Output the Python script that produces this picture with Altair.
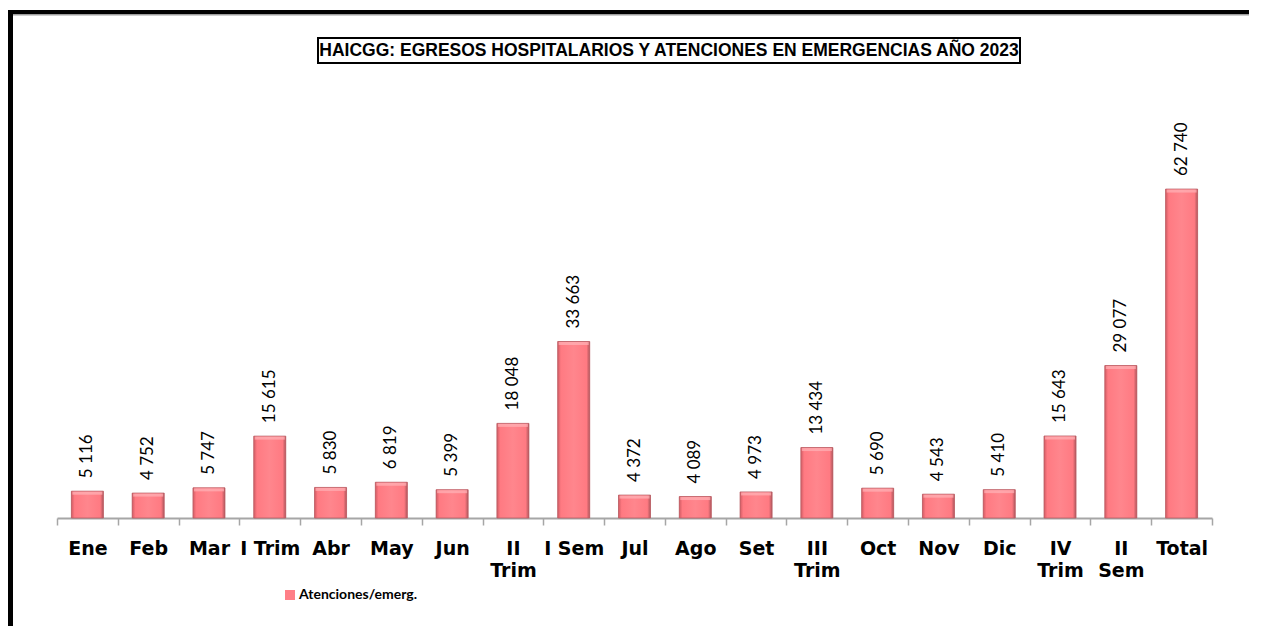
import altair as alt
import pandas as pd

categorias = ["Ene", "Feb", "Mar", "I Trim", "Abr", "May", "Jun", "II Trim", "I Sem",
              "Jul", "Ago", "Set", "III Trim", "Oct", "Nov", "Dic", "IV Trim", "II Sem", "Total"]
valores = [5116, 4752, 5747, 15615, 5830, 6819, 5399, 18048, 33663,
           4372, 4089, 4973, 13434, 5690, 4543, 5410, 15643, 29077, 62740]
serie = "Atenciones/emerg."
titulo = "HAICGG: EGRESOS HOSPITALARIOS Y ATENCIONES EN EMERGENCIAS AÑO 2023"
etiquetas_dos_lineas = ["II Trim", "III Trim", "IV Trim", "II Sem"]

df = pd.DataFrame({"mes": categorias, "valor": valores, "serie": [serie] * len(categorias)})

lista_js = "[" + ",".join("'" + e + "'" for e in etiquetas_dos_lineas) + "]"

x_enc = alt.X(
    "mes:N", sort=categorias,
    scale=alt.Scale(paddingInner=0, paddingOuter=0),
    axis=alt.Axis(
        title=None, labelAngle=0, labelFont="DejaVu Sans", labelFontWeight="bold",
        labelFontSize=19, labelColor="black", labelPadding=14, labelLineHeight=22,
        labelOverlap=False, labelExpr=f"indexof({lista_js}, datum.label) >= 0 ? split(datum.label, ' ') : datum.label",
        domainColor="#A6A6A6", domainWidth=2, tickColor="#A6A6A6", tickWidth=1.5,
        tickSize=7, tickBand="extent", grid=False,
    ),
)
y_enc = alt.Y("valor:Q", scale=alt.Scale(domain=[0, 70000], nice=False, zero=True), axis=None)

base = alt.Chart(df)

barras_leyenda = base.mark_bar(size=32).encode(
    x=x_enc, y=y_enc,
    color=alt.Color(
        "serie:N", scale=alt.Scale(range=["#FF7F87"]),
        legend=alt.Legend(
            title=None, orient="none", legendX=226, legendY=437, symbolType="square",
            symbolSize=100, symbolStrokeWidth=0, labelFont="Lato", labelFontWeight="bold",
            labelFontSize=14, labelColor="black", labelOffset=2, padding=0,
        ),
    ),
)

gradiente = alt.Gradient(
    gradient="linear", x1=0, y1=0, x2=1, y2=0,
    stops=[
        alt.GradientStop(offset=0, color="#D25C64"),
        alt.GradientStop(offset=0.1, color="#FF7A82"),
        alt.GradientStop(offset=0.5, color="#FF868D"),
        alt.GradientStop(offset=0.9, color="#FF7A82"),
        alt.GradientStop(offset=1, color="#B0565C"),
    ],
)

barras = base.mark_bar(size=32, fill=gradiente, stroke="#B85E65", strokeWidth=0.8).encode(
    x=x_enc, y=y_enc
)

brillo = base.mark_tick(size=30, thickness=3, color="#FFB3B8", yOffset=2).encode(x=x_enc, y=y_enc)

valores_txt = base.transform_calculate(
    etiqueta="replace(format(datum.valor, ','), ',', ' ')"
).mark_text(angle=270, align="left", baseline="middle", dx=13, font="Lato",
            fontSize=17, color="black").encode(x=x_enc, y=y_enc, text="etiqueta:N")

uno = alt.Data(values=[{"k": 1}])
marco_izq = alt.Chart(uno).mark_rule(color="black", strokeWidth=5).encode(
    x=alt.value(-46.5), y=alt.value(-141), y2=alt.value(475))
marco_sup = alt.Chart(uno).mark_rule(color="black", strokeWidth=4).encode(
    x=alt.value(-49), x2=alt.value(1192), y=alt.value(-139))
sombra = alt.Chart(uno).mark_rule(color="#9E9E9E", strokeWidth=1.5).encode(
    x=alt.value(-44), x2=alt.value(1192), y=alt.value(-136.3))
caja = alt.Chart(uno).mark_rect(fill="white", stroke="black", strokeWidth=2).encode(
    x=alt.value(261), x2=alt.value(963), y=alt.value(-113), y2=alt.value(-88))
texto_titulo = alt.Chart(uno).mark_text(
    font="Liberation Sans", fontWeight="bold", fontSize=17.5, baseline="middle",
    align="center", color="black").encode(x=alt.value(612), y=alt.value(-100), text=alt.value(titulo))

chart = alt.layer(
    marco_izq, marco_sup, sombra, caja, texto_titulo,
    barras_leyenda, barras, brillo, valores_txt,
).properties(
    width=1155, height=367,
    padding={"left": 49, "top": 143, "right": 45, "bottom": 108},
    autosize=alt.AutoSizeParams(type="none"),
).configure_view(stroke=None)

chart.save("out.html", embed_options={"renderer": "svg", "actions": False})
